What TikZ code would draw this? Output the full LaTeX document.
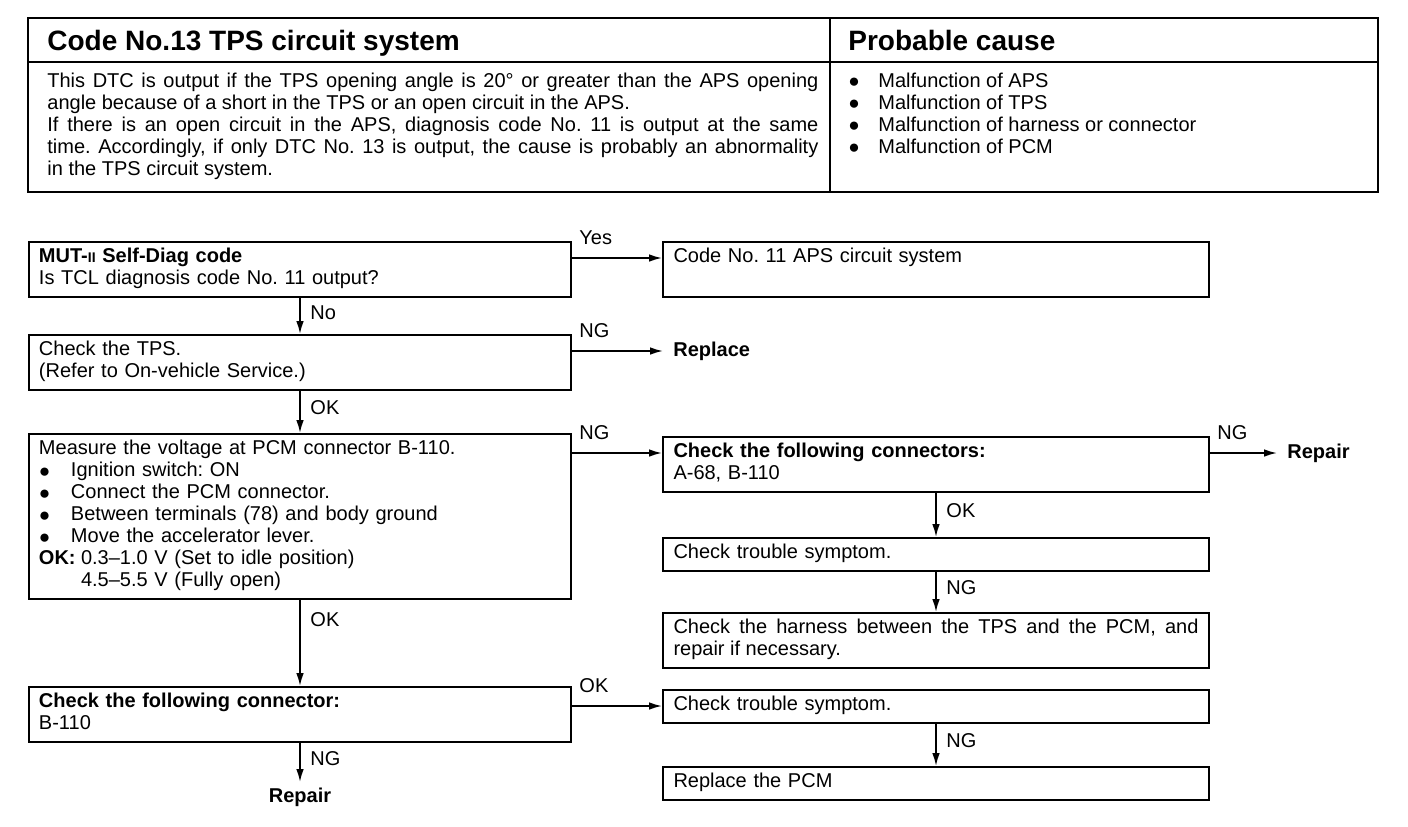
\documentclass[tikz,border=0pt]{standalone}
\usepackage{fontspec}
\setmainfont{Liberation Sans}
\usetikzlibrary{positioning,arrows.meta}

\newcommand{\bodyfont}{\fontsize{10}{11}\selectfont\frenchspacing}
\newcommand{\bigdot}{\raisebox{-0.2pt}{\fontsize{9.5}{10}\selectfont ●}}
\newcommand{\dotitem}{\makebox[16pt][l]{\bigdot}}

\begin{document}
\begin{tikzpicture}[x=1pt, y=1pt, >={Latex[length=6.5pt,width=3.8pt]},
  flowbox/.style={draw, line width=1pt, anchor=north west, align=left, inner xsep=5pt, inner ysep=2.75pt,
    font=\bodyfont, execute at begin node=\strut, execute at end node=\strut},
  leftbox/.style={flowbox, text width=261pt},
  rightbox/.style={flowbox, text width=262.5pt, inner xsep=5.25pt},
  flow/.style={->, line width=0.8pt},
  hlbl/.style={pos=0, anchor=south west, yshift=3pt, font=\bodyfont},
  vlbl/.style={pos=0.4, anchor=west, xshift=1.5pt, font=\bodyfont},
  endtxt/.style={font=\bodyfont\bfseries, inner xsep=5pt, inner ysep=3pt},
  headtxt/.style={anchor=base west, inner sep=0, font=\fontsize{14}{15}\selectfont\bfseries}]
  \useasboundingbox (0,0) rectangle (704,-413);
  \fill[white] (0,0) rectangle (704,-413);

  % header table
  \draw[line width=1.3pt] (14,-9) rectangle (689,-96);
  \draw[line width=1pt] (14,-31) -- (689,-31);
  \draw[line width=1pt] (415,-9) -- (415,-96);
  \node[headtxt] (title) at (23.5,-25) {Code No.13 TPS circuit system};
  \node[headtxt] (causehead) at (424,-25) {Probable cause};
  \node[anchor=north west, inner sep=0, text width=385.5pt, align=justify, font=\bodyfont] (desc) at (23.5,-36.3)
    {This DTC is output if the TPS opening angle is 20° or greater than the APS opening\linebreak
     angle because of a short in the TPS or an open circuit in the APS.\\
     If there is an open circuit in the APS, diagnosis code No. 11 is output at the same\linebreak
     time. Accordingly, if only DTC No. 13 is output, the cause is probably an abnormality\linebreak
     in the TPS circuit system.};
  \node[anchor=north west, inner sep=0, align=left, font=\bodyfont] (causes) at (424,-36.3)
    {\makebox[15pt][l]{\bigdot}Malfunction of APS\\
     \makebox[15pt][l]{\bigdot}Malfunction of TPS\\
     \makebox[15pt][l]{\bigdot}Malfunction of harness or connector\\
     \makebox[15pt][l]{\bigdot}Malfunction of PCM};

  % flow boxes
  \node[leftbox] (mut) at (14,-120.5) {\textbf{MUT-{\fontsize{7}{7}\selectfont II} Self-Diag code}\\Is TCL diagnosis code No. 11 output?};
  \node[rightbox] (code11) at (331,-120.5) {Code No. 11 APS circuit system\\\mbox{}};
  \node[leftbox] (tps) at (14,-167) {Check the TPS.\\(Refer to On-vehicle Service.)};
  \node[leftbox] (measure) at (14,-216.5) {Measure the voltage at PCM connector B-110.\\
    \dotitem Ignition switch: ON\\
    \dotitem Connect the PCM connector.\\
    \dotitem Between terminals (78) and body ground\\
    \dotitem Move the accelerator lever.\\
    \makebox[21pt][l]{\textbf{OK:}}0.3–1.0 V (Set to idle position)\\
    \hspace*{21pt}4.5–5.5 V (Fully open)};
  \node[rightbox] (conn) at (331,-218) {\textbf{Check the following connectors:}\\A-68, B-110};
  \node[rightbox] (symptomA) at (331,-268.5) {Check trouble symptom.};
  \node[rightbox, align=justify] (harness) at (331,-306) {Check the harness between the TPS and the PCM, and\linebreak repair if necessary.};
  \node[leftbox] (ckconn) at (14,-343) {\textbf{Check the following connector:}\\B-110};
  \node[rightbox] (symptomB) at (331,-344.5) {Check trouble symptom.};
  \node[rightbox] (pcm) at (331,-383) {Replace the PCM};

  % arrow entry and exit points
  \coordinate (code11in) at ([yshift=-8.5pt]code11.north west);
  \coordinate (tpsout) at ([yshift=-8.5pt]tps.north east);
  \coordinate (connin) at ([yshift=-8.5pt]conn.north west);
  \coordinate (connout) at ([yshift=-8.5pt]conn.north east);
  \coordinate (symptomBin) at ([yshift=-8.5pt]symptomB.north west);

  \node[endtxt, right=45.5pt of tpsout] (replace) {Replace};
  \node[endtxt, right=33.5pt of connout] (repairA) {Repair};
  \node[endtxt, below=19.5pt of ckconn] (repairB) {Repair};

  % connectors
  \draw[flow] (mut.east |- code11in) -- node[hlbl] {Yes} (code11in);
  \draw[flow] (mut.south) -- node[vlbl] {No} (tps.north);
  \draw[flow] (tpsout) -- node[hlbl] {NG} (replace.west);
  \draw[flow] (tps.south) -- node[vlbl] {OK} (measure.north);
  \draw[flow] (measure.east |- connin) -- node[hlbl] {NG} (connin);
  \draw[flow] (connout) -- node[hlbl] {NG} (repairA.west);
  \draw[flow] (conn.south) -- node[vlbl] {OK} (symptomA.north);
  \draw[flow] (symptomA.south) -- node[vlbl] {NG} (harness.north);
  \draw[flow] (measure.south) -- node[vlbl, pos=0.23] {OK} (ckconn.north);
  \draw[flow] (ckconn.east |- symptomBin) -- node[hlbl] {OK} (symptomBin);
  \draw[flow] (symptomB.south) -- node[vlbl] {NG} (pcm.north);
  \draw[flow] (ckconn.south) -- node[vlbl] {NG} (repairB.north);
\end{tikzpicture}
\end{document}
